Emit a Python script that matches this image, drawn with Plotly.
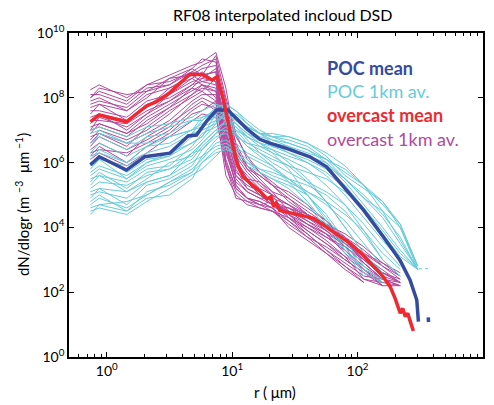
import plotly.graph_objects as go
import numpy as np

# ---------------- data ----------------
# radius bins (um) shared by the 1 km averaged spectra
R_BINS = [0.741, 0.871, 1.445, 2.089, 3.162, 4.786, 5.754, 7.413, 8.913, 10.72,
          13.18, 16.60, 20.89, 28.18, 39.81, 56.23, 79.43, 112.2, 158.5, 218.8, 302.0]

N = None
# log10(dN/dlogr) of overcast 1 km averages
OVC_1KM_LOG = [
    [8.25, 8.4, 8.0, 8.4, 8.7, 9.0, 9.1, 9.4, 8.3, 6.5, 5.8, 5.6, 5.3, 4.9, 4.4, 3.9, 3.4, 3.0, 2.6, 2.4, N],
    [8.0, 8.2, 7.9, 8.4, 8.5, 8.8, 9.0, 9.2, 7.2, 6.0, 5.5, 5.4, 5.0, 4.7, 4.3, 4.0, 3.6, 3.0, 2.5, 2.3, N],
    [7.9, 8.0, 7.6, 8.0, 8.6, 8.9, 8.7, 8.8, 6.9, 5.7, 5.4, 5.0, 4.8, 4.4, 3.9, 3.5, 3.0, 2.6, 2.3, N, N],
    [7.7, 7.8, 7.6, 8.1, 8.3, 8.6, 8.8, 8.5, 6.6, 5.5, 5.1, 4.9, 4.7, 4.6, 4.2, 3.8, 3.3, 2.7, 2.2, 2.2, N],
    [7.5, 7.8, 7.3, 7.7, 8.3, 8.7, 8.5, 8.4, 7.4, 6.2, 5.7, 5.3, 5.0, 4.3, 3.8, 3.3, 2.9, 2.5, 2.4, N, N],
    [7.4, 7.5, 7.3, 7.8, 8.0, 8.4, 8.7, 8.8, 6.4, 5.3, 4.9, 4.8, 4.6, 4.2, 3.7, 3.2, 2.7, 2.3, N, N, N],
    [7.2, 7.5, 7.0, 7.5, 8.1, 8.6, 8.4, 8.2, 6.9, 6.0, 5.6, 5.2, 5.0, 4.7, 4.4, 4.1, 3.7, 3.3, 2.8, 2.5, N],
    [7.1, 7.2, 6.9, 7.4, 7.8, 8.2, 8.4, 8.3, 6.1, 5.2, 4.9, 4.7, 4.8, 4.4, 4.0, 3.6, 3.1, 2.4, 2.2, N, N],
    [6.9, 7.2, 6.9, 7.2, 7.7, 8.3, 8.2, 8.6, 7.6, 6.6, 5.9, 5.5, 5.1, 4.5, 4.1, 3.8, 3.5, 3.1, 2.7, 2.3, N],
    [6.8, 6.9, 6.5, 7.1, 7.6, 8.0, 8.2, 7.9, 5.9, 4.9, 4.8, 4.7, 4.6, 4.0, 3.6, 3.2, 2.8, 2.4, 2.3, N, N],
    [6.6, 6.9, 6.6, 6.9, 7.3, 7.9, 8.1, 8.1, 6.8, 5.8, 5.2, 5.0, 4.7, 4.5, 4.2, 3.9, 3.5, 3.0, 2.6, 2.3, N],
    [6.4, 6.6, 6.2, 6.8, 7.2, 7.7, 7.9, 7.6, 5.6, 5.0, 4.7, 4.6, 4.5, 4.1, 3.7, 3.4, 3.0, 2.6, 2.2, N, N],
    [6.3, 6.4, 6.3, 6.6, 7.0, 7.6, 7.8, 7.7, 6.4, 5.6, 5.2, 5.0, 4.8, 4.6, 4.3, 4.0, 3.6, 3.2, 2.9, 2.6, N],
    [6.1, 6.3, 5.9, 6.3, 6.8, 7.3, 7.5, 7.4, 5.9, 5.1, 4.8, 4.6, 4.5, 4.3, 3.9, 3.5, 3.1, 2.7, 2.4, N, N],
    [8.1, 8.1, 7.8, 8.3, 8.4, 8.9, 9.2, 9.1, 7.9, 6.3, 5.8, 5.4, 5.1, 4.9, 4.5, 4.1, 3.8, 3.4, 2.9, 2.5, N],
    [7.0, 7.4, 7.1, 7.5, 7.9, 8.4, 8.5, 8.6, 7.0, 5.9, 5.4, 5.0, 4.7, 4.3, 4.0, 3.7, 3.4, 2.9, 2.4, 2.2, N],
    [7.6, 7.6, 7.4, 7.9, 8.1, 8.5, 8.6, 8.9, 7.7, 6.8, 6.2, 5.7, 5.4, 5.0, 4.6, 4.2, 3.7, 3.1, 2.6, 2.3, N],
    [7.3, 7.3, 7.2, 7.6, 7.9, 8.3, 8.6, 8.5, 6.3, 5.4, 5.1, 4.9, 4.9, 4.7, 4.3, 3.9, 3.4, 2.9, 2.4, N, N],
    [6.7, 7.0, 6.7, 7.0, 7.5, 8.1, 8.3, 8.2, 7.1, 6.1, 5.5, 5.1, 4.8, 4.4, 4.1, 3.7, 3.3, 2.8, 2.4, 2.2, N],
    [6.5, 6.8, 6.4, 6.7, 7.1, 7.8, 8.0, 7.8, 6.6, 5.3, 4.9, 4.8, 4.6, 4.6, 4.4, 4.1, 3.6, 3.0, 2.5, N, N],
    [8.0, 8.3, 8.1, 8.2, 8.6, 8.7, 8.9, 9.0, 7.6, 6.4, 5.9, 5.6, 5.3, 5.1, 4.7, 4.2, 3.6, 2.9, 2.4, 2.3, N],
    [7.8, 7.9, 7.7, 8.2, 8.4, 8.8, 8.7, 9.3, 8.0, 6.9, 6.1, 5.7, 5.3, 4.8, 4.4, 4.0, 3.5, 3.2, 2.8, 2.4, N],
    [6.2, 6.5, 6.0, 6.5, 6.9, 7.5, 7.6, 7.9, 6.0, 5.2, 4.9, 4.7, 4.5, 4.2, 3.8, 3.3, 2.8, 2.3, N, N, N],
    [7.0, 7.1, 6.8, 7.3, 7.7, 8.1, 8.4, 8.0, 6.7, 5.6, 5.3, 5.1, 4.8, 4.5, 4.1, 3.8, 3.2, 2.7, 2.3, 2.2, N],
]

# log10(dN/dlogr) of POC 1 km averages
POC_1KM_LOG = [
    [7.0, 7.1, 6.8, 7.1, 7.2, 7.4, 7.6, 7.8, 7.7, 7.4, 7.1, 6.9, 6.8, 6.7, 6.5, 6.1, 5.5, 4.9, 4.5, 4.0, 2.8],
    [6.6, 6.8, 6.4, 6.8, 6.9, 7.3, 7.3, 7.7, 7.8, 7.6, 7.2, 6.9, 6.7, 6.5, 6.2, 5.9, 5.5, 5.0, 4.4, 3.7, 2.7],
    [6.3, 6.6, 6.2, 6.5, 6.8, 7.0, 7.4, 7.5, 7.3, 7.1, 6.8, 6.6, 6.5, 6.3, 6.1, 5.8, 5.3, 4.6, 3.8, 2.9, N],
    [6.0, 6.1, 5.9, 6.2, 6.3, 6.9, 7.0, 7.2, 7.6, 7.4, 7.0, 6.7, 6.5, 6.4, 6.2, 6.0, 5.5, 4.9, 4.3, 3.5, 2.7],
    [5.8, 6.1, 5.5, 6.0, 6.3, 6.6, 6.8, 7.5, 7.3, 7.0, 6.6, 6.4, 6.2, 5.9, 5.4, 4.8, 4.0, 3.2, 2.5, N, N],
    [5.5, 5.6, 5.4, 5.8, 5.9, 6.5, 6.9, 7.1, 7.2, 6.9, 6.5, 6.3, 6.1, 5.9, 5.7, 5.5, 5.1, 4.6, 3.9, 3.2, 2.7],
    [5.3, 5.6, 5.1, 5.5, 6.0, 6.2, 6.6, 7.0, 7.0, 6.8, 6.6, 6.5, 6.4, 6.0, 5.5, 4.8, 4.0, 3.2, 2.6, N, N],
    [5.1, 5.2, 5.1, 5.4, 5.6, 6.3, 6.4, 6.9, 7.3, 7.1, 6.7, 6.3, 6.0, 5.7, 5.4, 5.1, 4.7, 4.1, 3.4, 2.8, N],
    [4.9, 5.2, 4.7, 5.3, 5.5, 5.9, 6.4, 6.8, 6.9, 6.6, 6.3, 6.1, 5.9, 5.5, 5.0, 4.3, 3.5, 2.7, 2.4, N, N],
    [4.6, 4.7, 4.8, 5.0, 5.4, 5.8, 6.1, 6.6, 6.7, 6.5, 6.2, 6.0, 5.8, 5.5, 5.1, 4.7, 4.2, 3.5, 2.8, N, N],
    [4.4, 4.7, 4.5, 4.9, 5.0, 5.5, 6.0, 6.4, 6.5, 6.2, 5.9, 5.7, 5.5, 5.3, 5.0, 4.4, 3.6, 2.8, 2.3, N, N],
    [6.9, 7.0, 6.6, 6.9, 7.1, 7.3, 7.4, 7.6, 7.5, 7.3, 7.1, 6.9, 6.8, 6.8, 6.6, 6.2, 5.6, 5.2, 4.8, 4.1, 2.8],
    [5.9, 6.2, 5.7, 6.1, 6.2, 6.8, 7.1, 7.5, 7.8, 7.6, 7.3, 7.0, 6.8, 6.6, 6.4, 6.1, 5.7, 5.3, 4.7, 4.1, 2.8],
    [5.0, 5.1, 4.9, 5.4, 5.6, 6.0, 6.2, 6.7, 7.0, 6.9, 6.5, 6.2, 5.9, 5.4, 4.8, 4.1, 3.3, 2.6, N, N, N],
    [4.8, 5.0, 4.5, 5.1, 5.3, 5.7, 6.2, 6.5, 6.6, 6.4, 6.1, 5.8, 5.6, 5.4, 5.1, 4.8, 4.4, 3.9, 3.2, 2.7, N],
    [6.2, 6.3, 6.0, 6.5, 6.6, 7.0, 7.2, 7.4, 7.6, 7.2, 6.9, 6.7, 6.6, 6.5, 6.3, 6.1, 5.8, 5.3, 4.5, 3.6, 2.7],
    [6.5, 6.9, 6.6, 6.6, 6.8, 7.0, 7.1, 7.3, 7.5, 7.3, 7.0, 6.8, 6.7, 6.6, 6.4, 6.0, 5.4, 4.7, 4.0, 3.3, 2.7],
    [5.6, 5.8, 5.5, 5.9, 6.1, 6.4, 6.7, 7.2, 7.5, 7.5, 7.2, 6.9, 6.6, 6.3, 6.0, 5.6, 5.0, 4.3, 3.6, 3.0, N],
    [5.2, 5.4, 5.3, 5.6, 5.8, 6.1, 6.5, 6.9, 7.1, 7.0, 6.8, 6.6, 6.3, 5.8, 5.0, 4.2, 3.4, 2.6, 2.3, N, N],
    [4.7, 4.9, 4.6, 5.0, 5.4, 5.7, 6.0, 6.3, 6.4, 6.3, 6.0, 5.8, 5.7, 5.5, 5.3, 5.0, 4.5, 3.8, 3.0, 2.5, N],
    [6.1, 6.4, 6.0, 6.3, 6.5, 6.9, 7.3, 7.6, 7.7, 7.4, 7.1, 6.9, 6.9, 6.8, 6.6, 6.3, 5.9, 5.3, 4.8, 4.0, 2.7],
    [5.4, 5.7, 5.2, 5.7, 5.8, 6.3, 6.6, 7.0, 7.3, 7.2, 6.8, 6.5, 6.3, 6.1, 5.8, 5.3, 4.7, 3.9, 3.0, 2.5, N],
    [4.5, 4.6, 4.4, 4.8, 5.2, 5.6, 5.8, 6.2, 6.5, 6.3, 6.0, 5.7, 5.5, 5.2, 4.7, 4.0, 3.2, 2.5, N, N, N],
    [5.7, 5.9, 5.6, 6.0, 6.2, 6.6, 6.8, 7.3, 7.4, 7.2, 6.9, 6.6, 6.4, 6.2, 6.0, 5.7, 5.2, 4.6, 3.8, 3.1, 2.7],
]

# overcast mean: log10 r, log10 dN/dlogr
OVC_MEAN_LOGR = [-0.13, -0.06, 0.157, 0.317, 0.397, 0.503, 0.66, 0.76, 0.84, 0.88, 0.93, 0.97,
                 1.01, 1.05, 1.09, 1.14, 1.22, 1.28, 1.31, 1.33, 1.35, 1.38, 1.45, 1.54, 1.65,
                 1.75, 1.85, 1.94, 2.03, 2.125, 2.2, 2.26, 2.30, 2.34, 2.36, 2.38, 2.40, 2.42, 2.445]
OVC_MEAN_LOG = [7.26, 7.47, 7.26, 7.75, 7.88, 8.16, 8.72, 8.72, 8.55, 8.65, 7.95, 7.21,
                6.45, 5.87, 5.55, 5.38, 5.12, 4.88, 4.95, 4.65, 4.75, 4.52, 4.45, 4.38, 4.28,
                4.02, 3.75, 3.51, 3.2, 2.79, 2.5, 2.17, 1.8, 1.35, 1.5, 1.25, 1.35, 1.1, 0.8]

# POC mean: log10 r, log10 dN/dlogr (None = gap)
POC_MEAN_LOGR = [-0.13, -0.06, 0.157, 0.303, 0.503, 0.649, 0.716, 0.80, 0.875, 0.968, 1.01,
                 1.115, 1.22, 1.30, 1.434, 1.62, 1.753, 1.886, 2.046, 2.205, 2.338, 2.418,
                 2.472, 2.485, None, 2.563, 2.566]
POC_MEAN_LOG = [5.93, 6.18, 5.77, 6.18, 6.29, 6.82, 6.85, 7.3, 7.62, 7.62, 7.45,
                7.05, 6.72, 6.6, 6.44, 6.18, 5.87, 5.26, 4.54, 3.71, 2.99, 2.38,
                1.76, 1.09, None, 1.22, 1.08]

# faint dotted tail
TAIL_LOGR = [2.49, 2.58]
TAIL_LOG = [2.72, 2.73]

LEGEND = ["POC mean", "POC 1km av.", "overcast mean", "overcast 1km av."]

C_POC = "#66CBDA"
C_OVC = "#B2489F"
C_POCM = "#354B9F"
C_OVCM = "#EE2A30"
FONT = "Lato"


def to_lin(vals):
    return [None if v is None else 10 ** v for v in vals]


fig = go.Figure()

for row in OVC_1KM_LOG:
    fig.add_trace(go.Scatter(x=R_BINS, y=to_lin(row), mode="lines",
                             line=dict(color=C_OVC, width=1), hoverinfo="skip",
                             showlegend=False, connectgaps=False))
for row in POC_1KM_LOG:
    fig.add_trace(go.Scatter(x=R_BINS, y=to_lin(row), mode="lines",
                             line=dict(color=C_POC, width=1), hoverinfo="skip",
                             showlegend=False, connectgaps=False))

fig.add_trace(go.Scatter(x=to_lin(TAIL_LOGR), y=to_lin(TAIL_LOG), mode="lines",
                         line=dict(color=C_POC, width=1, dash="dot"), showlegend=False))
fig.add_trace(go.Scatter(x=to_lin(POC_MEAN_LOGR), y=to_lin(POC_MEAN_LOG), mode="lines",
                         line=dict(color=C_POCM, width=3.5), showlegend=False,
                         connectgaps=False))
fig.add_trace(go.Scatter(x=to_lin(OVC_MEAN_LOGR), y=to_lin(OVC_MEAN_LOG), mode="lines",
                         line=dict(color=C_OVCM, width=3.5), showlegend=False))

x_minor = [k * 10 ** e for e in range(-1, 3) for k in range(2, 10) if 0.5 < k * 10 ** e < 1000]

fig.update_xaxes(type="log", range=[np.log10(0.5), 3], automargin=False,
                 tickvals=[1, 10, 100, 1000],
                 ticktext=["10<sup>0</sup>", "10<sup>1</sup>", "10<sup>2</sup>", "10<sup>3</sup>"],
                 ticks="inside", ticklen=5, tickwidth=1, tickcolor="black",
                 minor=dict(tickvals=x_minor, ticks="inside", ticklen=3, tickcolor="black"),
                 showline=True, linecolor="black", linewidth=1.5, mirror="allticks",
                 showgrid=False, zeroline=False,
                 tickfont=dict(family=FONT, size=14, color="black"))
fig.update_yaxes(type="log", range=[0, 10], automargin=False,
                 tickvals=[1, 1e2, 1e4, 1e6, 1e8, 1e10],
                 ticktext=["10<sup>0</sup>", "10<sup>2</sup>", "10<sup>4</sup>",
                           "10<sup>6</sup>", "10<sup>8</sup>", "10<sup>10</sup>"],
                 ticks="inside", ticklen=5, tickwidth=1, tickcolor="black",
                 showline=True, linecolor="black", linewidth=1.5, mirror="allticks",
                 showgrid=False, zeroline=False,
                 tickfont=dict(family=FONT, size=14, color="black"))

ann = []
ann.append(dict(text="RF08 interpolated incloud DSD", xref="paper", yref="paper",
                x=(282 - 69) / 414, y=(357 - 15) / 324, xanchor="center", yanchor="middle",
                showarrow=False, font=dict(family=FONT, size=16, color="black")))
ann.append(dict(text="r ( μm)", xref="paper", yref="paper",
                x=(275 - 69) / 414, y=(357 - 392) / 324, xanchor="center", yanchor="middle",
                showarrow=False, font=dict(family=FONT, size=15, color="black")))
ann.append(dict(text="dN/dlogr (m <sup>−3</sup>  μm<sup> −1</sup>)", xref="paper", yref="paper",
                x=(22 - 69) / 414, y=(357 - 205) / 324, xanchor="center", yanchor="middle",
                textangle=-90, showarrow=False, font=dict(family=FONT, size=15, color="black")))

leg_styles = [(C_POCM, True, 68), (C_POC, False, 91), (C_OVCM, True, 115), (C_OVC, False, 139)]
for label, (col, bold, yc) in zip(LEGEND, leg_styles):
    txt = f"<b>{label}</b>" if bold else label
    ann.append(dict(text=txt, xref="paper", yref="paper", x=(325 - 69) / 414,
                    y=(357 - yc) / 324, xanchor="left", yanchor="middle", showarrow=False,
                    font=dict(family=FONT, size=18, color=col)))

fig.update_layout(width=494, height=405, margin=dict(l=69, r=11, t=33, b=48),
                  paper_bgcolor="white", plot_bgcolor="white", annotations=ann,
                  showlegend=False)

fig.write_html("out.html")
